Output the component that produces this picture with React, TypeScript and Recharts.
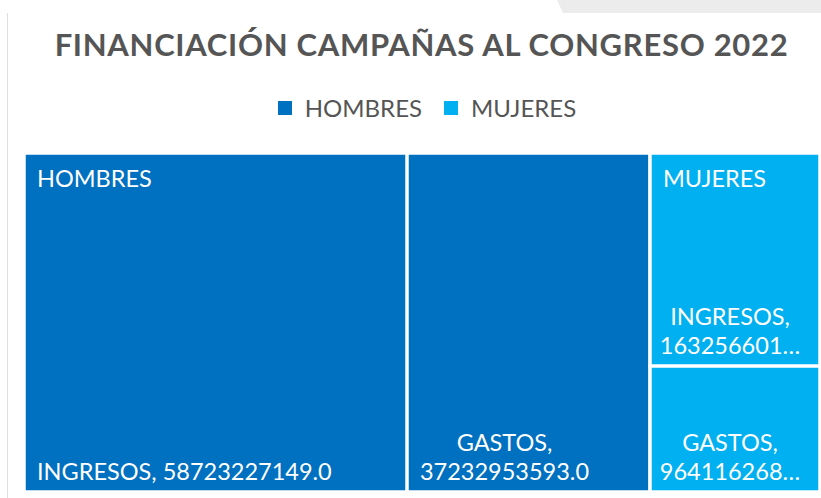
import React from "react";
import { Treemap } from "recharts";

const groups = ["HOMBRES", "MUJERES"];
const groupColors = ["#0070C0", "#00B0F0"];
const items = ["INGRESOS", "GASTOS"];
const hombresValues = [58723227149.0, 37232953593.0];
const mujeresValues = [16325660125.0, 9641162680.0];

const seriesValues = [hombresValues, mujeresValues];

const treeData = groups.map((g, gi) => ({
    name: g,
    color: groupColors[gi],
    children: items.map((it, ii) => ({
        name: it,
        color: groupColors[gi],
        size: seriesValues[gi][ii],
    })),
}));

const FONT = "Lato, 'Open Sans', sans-serif";
const LABEL_SIZE = 23.5;

const fit = (s: string, maxChars: number) =>
    s.length > maxChars ? s.slice(0, maxChars - 1) + "…" : s;

const CellContent = (props: any) => {
    const { x, y, width, height, depth, name, color, value } = props;
    if (depth === 0 || width <= 0 || height <= 0) return <g />;
    if (depth === 1) {
        return (
            <g>
                <rect
                    x={x + 1.5}
                    y={y + 1.5}
                    width={width - 3}
                    height={height - 3}
                    fill={color}
                />
                <text
                    x={x + 13}
                    y={y + 34}
                    fill="#fff"
                    fontSize={23.5}
                    fontFamily={FONT}
                >
                    {name}
                </text>
            </g>
        );
    }
    const valText = Number(value).toFixed(1);
    const maxChars = Math.floor((width - 24) / 14);
    const full = `${name}, ${valText}`;
    const oneLine = full.length <= maxChars;
    const cx = x + width / 2 - (width > 200 ? 24 : 5);
    return (
        <g>
            <rect
                x={x}
                y={y}
                width={width}
                height={height}
                fill="none"
                stroke="#fff"
                strokeWidth={3}
            />
            {oneLine ? (
                <text
                    x={x + 13}
                    y={y + height - 12}
                    fill="#fff"
                    fontSize={LABEL_SIZE}
                    fontFamily={FONT}
                >
                    {full}
                </text>
            ) : (
                <text
                    x={cx}
                    y={y + height - 12}
                    fill="#fff"
                    fontSize={LABEL_SIZE}
                    fontFamily={FONT}
                    textAnchor="middle"
                >
                    <tspan x={cx} dy={-29}>
                        {fit(name + ",", maxChars)}
                    </tspan>
                    <tspan x={cx} dy={29}>
                        {fit(valText, maxChars)}
                    </tspan>
                </text>
            )}
        </g>
    );
};

export default function App() {
    return (
        <div
            style={{
                position: "absolute",
                left: 0,
                top: 0,
                width: 821,
                height: 498,
                background: "#fff",
                fontFamily: FONT,
                overflow: "hidden",
            }}
        >
            {/* page decorations */}
            <div
                style={{
                    position: "absolute",
                    left: 557,
                    top: 0,
                    width: 270,
                    height: 13,
                    background: "#ececec",
                    clipPath: "polygon(0 0, 100% 0, 100% 100%, 6px 100%)",
                }}
            />
            <div
                style={{
                    position: "absolute",
                    left: 7,
                    top: 13,
                    width: 1,
                    height: 485,
                    background: "#dedede",
                }}
            />
            <div
                style={{
                    position: "absolute",
                    left: 0,
                    top: 25,
                    width: 843,
                    textAlign: "center",
                    fontSize: 31,
                    fontWeight: "bold",
                    letterSpacing: 0.7,
                    color: "#555",
                }}
            >
                FINANCIACIÓN CAMPAÑAS AL CONGRESO 2022
            </div>
            <div
                style={{
                    position: "absolute",
                    left: 0,
                    top: 93,
                    width: 854,
                    display: "flex",
                    justifyContent: "center",
                    alignItems: "center",
                    fontSize: 24,
                    color: "#555",
                }}
            >
                {groups.map((g, i) => (
                    <span
                        key={g}
                        style={{
                            display: "flex",
                            alignItems: "center",
                            marginRight: i === 0 ? 22 : 0,
                        }}
                    >
                        <span
                            style={{
                                width: 14,
                                height: 14,
                                background: groupColors[i],
                                marginRight: 13,
                                display: "inline-block",
                            }}
                        />
                        {g}
                    </span>
                ))}
            </div>
            <div style={{ position: "absolute", left: 23.5, top: 152.5 }}>
                <Treemap
                    width={796}
                    height={339}
                    data={treeData}
                    dataKey="size"
                    nameKey="name"
                    type="flat"
                    content={<CellContent />}
                    isAnimationActive={false}
                />
            </div>
        </div>
    );
}
